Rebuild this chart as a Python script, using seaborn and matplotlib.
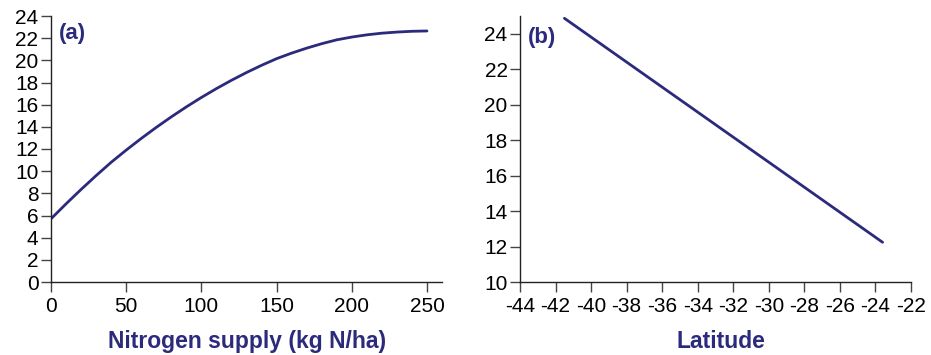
import matplotlib
matplotlib.use("Agg")
import matplotlib.pyplot as plt
import seaborn as sns
import pandas as pd

nitrogen = [0, 10, 20, 30, 40, 50, 60, 70, 80, 90, 100, 110, 120, 130, 140,
            150, 160, 170, 180, 190, 200, 210, 220, 230, 240, 250]
yield_a = [5.7, 7.05, 8.35, 9.6, 10.8, 11.9, 12.95, 13.95, 14.9, 15.8, 16.65,
           17.45, 18.2, 18.9, 19.55, 20.15, 20.65, 21.1, 21.5, 21.85, 22.1,
           22.3, 22.45, 22.55, 22.62, 22.65]

latitude = [-41.5, -23.6]
yield_b = [24.87, 12.24]

xticks_a = [0, 50, 100, 150, 200, 250]
yticks_a = list(range(0, 25, 2))
xticks_b = list(range(-44, -21, 2))
yticks_b = list(range(10, 25, 2))

navy = "#2b2a7c"

sns.set_theme(style="ticks")
plt.rcParams["font.family"] = ["Liberation Sans", "DejaVu Sans"]

fig = plt.figure(figsize=(9.31, 3.55), dpi=100)
W, H = 931, 355
ax1 = fig.add_axes([51 / W, 1 - 282 / H, (442 - 51) / W, (282 - 16) / H])
ax2 = fig.add_axes([520 / W, 1 - 282 / H, (911 - 520) / W, (282 - 16) / H])

df_a = pd.DataFrame({"x": nitrogen, "y": yield_a})
df_b = pd.DataFrame({"x": latitude, "y": yield_b})

sns.lineplot(data=df_a, x="x", y="y", ax=ax1, color=navy, linewidth=2.0)
sns.lineplot(data=df_b, x="x", y="y", ax=ax2, color=navy, linewidth=2.0)

ax1.set_xlim(0, 260)
ax1.set_ylim(0, 24)
ax1.set_xticks(xticks_a)
ax1.set_yticks(yticks_a)
ax1.set_xlabel("Nitrogen supply (kg N/ha)", fontsize=16.5, fontweight="bold", color=navy)
ax1.set_ylabel("")
ax1.text(0.02, 0.975, "(a)", transform=ax1.transAxes, fontsize=16, fontweight="bold",
         color=navy, va="top", ha="left")

ax2.set_xlim(-44, -22)
ax2.set_ylim(10, 25)
ax2.set_xticks(xticks_b)
ax2.set_xticklabels([f"-{abs(v)}" for v in xticks_b])
ax2.set_yticks(yticks_b)
ax2.set_xlabel("Latitude", fontsize=16.5, fontweight="bold", color=navy)
ax2.set_ylabel("")
ax2.text(0.02, 0.96, "(b)", transform=ax2.transAxes, fontsize=16, fontweight="bold",
         color=navy, va="top", ha="left")

label_y = -(348 - 282) / 266
ax1.xaxis.label.set_va("baseline")
ax1.xaxis.set_label_coords(0.502, label_y)
ax2.xaxis.label.set_va("baseline")
ax2.xaxis.set_label_coords(0.515, label_y)

for ax in (ax1, ax2):
    sns.despine(ax=ax)
    ax.tick_params(axis="x", direction="out", length=7, width=1, color="#444444",
                   labelsize=15, labelcolor="black", pad=4)
    ax.tick_params(axis="y", direction="out", length=7, width=1, color="#444444",
                   labelsize=15, labelcolor="black", pad=2)
    for s in ("left", "bottom"):
        ax.spines[s].set_color("#222222")
        ax.spines[s].set_linewidth(1.0)

fig.savefig("out.png", dpi=100)
